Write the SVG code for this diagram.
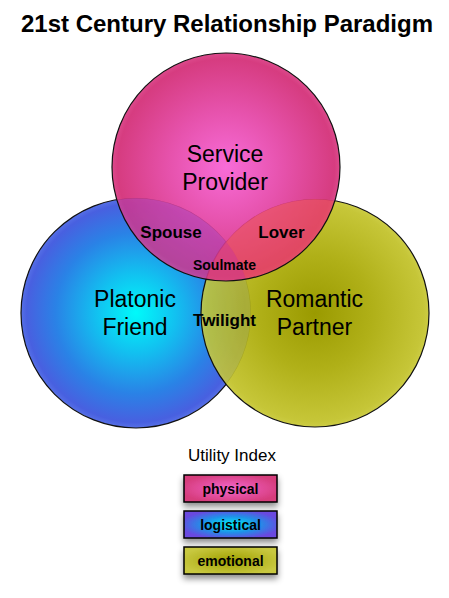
<svg xmlns="http://www.w3.org/2000/svg" width="449" height="598" viewBox="0 0 449 598">
<defs>
<style>
text{font-family:"Liberation Sans",Arial,Helvetica,sans-serif;fill:#000;text-anchor:middle}
.title{font-size:24px;font-weight:bold}
.node{font-size:23px}
.region{font-size:17px;font-weight:bold}
.small{font-size:14px;font-weight:bold}
.legend-title{font-size:17px}
.legend-label{font-size:14px;font-weight:bold}
.ring{fill:none;stroke:#111;stroke-width:1.2}
.box{stroke:#000;stroke-width:1.5;filter:url(#shadow)}
</style>
<radialGradient id="gP" cx="0.5" cy="0.5" r="0.5">
<stop offset="0" stop-color="#f86cd8"/>
<stop offset="0.5" stop-color="#e652ac"/>
<stop offset="0.95" stop-color="#d63c80"/>
<stop offset="1" stop-color="#dc4a8c"/>
</radialGradient>
<radialGradient id="gB" cx="0.5" cy="0.5" r="0.5">
<stop offset="0" stop-color="#00fafa"/>
<stop offset="0.35" stop-color="#12c0f0"/>
<stop offset="0.7" stop-color="#2a82e6"/>
<stop offset="0.95" stop-color="#4860e0"/>
<stop offset="1" stop-color="#5670e6"/>
</radialGradient>
<radialGradient id="gY" cx="0.5" cy="0.5" r="0.5">
<stop offset="0" stop-color="#9a9a00"/>
<stop offset="0.5" stop-color="#b0b018"/>
<stop offset="0.95" stop-color="#c6c638"/>
<stop offset="1" stop-color="#cccc44"/>
</radialGradient>
<radialGradient id="lP" cx="0.5" cy="0.5" r="0.55">
<stop offset="0" stop-color="#f466cc"/>
<stop offset="1" stop-color="#d63c7c"/>
</radialGradient>
<radialGradient id="lB" cx="0.5" cy="0.5" r="0.55">
<stop offset="0" stop-color="#00f0f8"/>
<stop offset="0.55" stop-color="#2090e8"/>
<stop offset="1" stop-color="#6a48e0"/>
</radialGradient>
<radialGradient id="lY" cx="0.5" cy="0.5" r="0.55">
<stop offset="0" stop-color="#a0a000"/>
<stop offset="1" stop-color="#c8c840"/>
</radialGradient>
<filter id="shadow" x="-20%" y="-30%" width="140%" height="190%">
<feDropShadow dx="0" dy="4" stdDeviation="3" flood-color="#000" flood-opacity="0.45"/>
</filter>
<clipPath id="clipP">
<circle cx="226" cy="167" r="114"/>
</clipPath>
<clipPath id="clipB">
<circle cx="136" cy="313" r="115"/>
</clipPath>
<mask id="mY" maskUnits="userSpaceOnUse" x="0" y="0" width="449" height="598">
<rect width="449" height="598" fill="#fff"/>
<circle cx="136" cy="313" r="115" fill="#000" fill-opacity="0.13"/>
</mask>
<mask id="mP" maskUnits="userSpaceOnUse" x="0" y="0" width="449" height="598">
<rect width="449" height="598" fill="#fff"/>
<g opacity="0.2">
<circle cx="136" cy="313" r="115" fill="#000"/>
<circle cx="315" cy="313" r="114" fill="#000"/>
</g>
</mask>
</defs>
<rect width="449" height="598" fill="#fff"/>
<text class="title" x="227" y="32">21st Century Relationship Paradigm</text>

<g id="node-platonic-friend">
<circle cx="136" cy="313" r="115" fill="url(#gB)"/>
<circle class="ring" cx="136" cy="313" r="115"/>
<text class="node" x="135" y="307">Platonic</text>
<text class="node" x="135" y="335">Friend</text>
</g>

<g id="node-romantic-partner">
<circle cx="315" cy="313" r="114" fill="url(#gY)" mask="url(#mY)"/>
<circle cx="315" cy="313" r="114" fill="#b8c030" fill-opacity="0.12" clip-path="url(#clipB)"/>
<circle class="ring" cx="315" cy="313" r="114"/>
<text class="node" x="314.5" y="307">Romantic</text>
<text class="node" x="314.5" y="335">Partner</text>
</g>

<g id="node-service-provider">
<circle cx="226" cy="167" r="114" fill="url(#gP)" mask="url(#mP)"/>
<circle cx="315" cy="313" r="114" fill="#f23c5a" fill-opacity="0.5" clip-path="url(#clipP)"/>
<circle cx="136" cy="313" r="115" fill="#c02ca8" fill-opacity="0.3" clip-path="url(#clipP)"/>
<circle class="ring" cx="226" cy="167" r="114"/>
<text class="node" x="225" y="162">Service</text>
<text class="node" x="225" y="190">Provider</text>
</g>

<g id="overlap-labels">
<text class="region" x="171" y="238">Spouse</text>
<text class="region" x="281.5" y="238">Lover</text>
<text class="small" x="224.5" y="270">Soulmate</text>
<text class="region" x="224.5" y="326">Twilight</text>
</g>

<g id="legend">
<text class="legend-title" x="232" y="461">Utility Index</text>
<g id="legend-physical">
<rect class="box" x="184" y="475" width="93" height="27" fill="url(#lP)"/>
<text class="legend-label" x="230.5" y="494">physical</text>
</g>
<g id="legend-logistical">
<rect class="box" x="184" y="511" width="93" height="27" fill="url(#lB)"/>
<text class="legend-label" x="230.5" y="530">logistical</text>
</g>
<g id="legend-emotional">
<rect class="box" x="184" y="547" width="93" height="27" fill="url(#lY)"/>
<text class="legend-label" x="230.5" y="566">emotional</text>
</g>
</g>
</svg>
